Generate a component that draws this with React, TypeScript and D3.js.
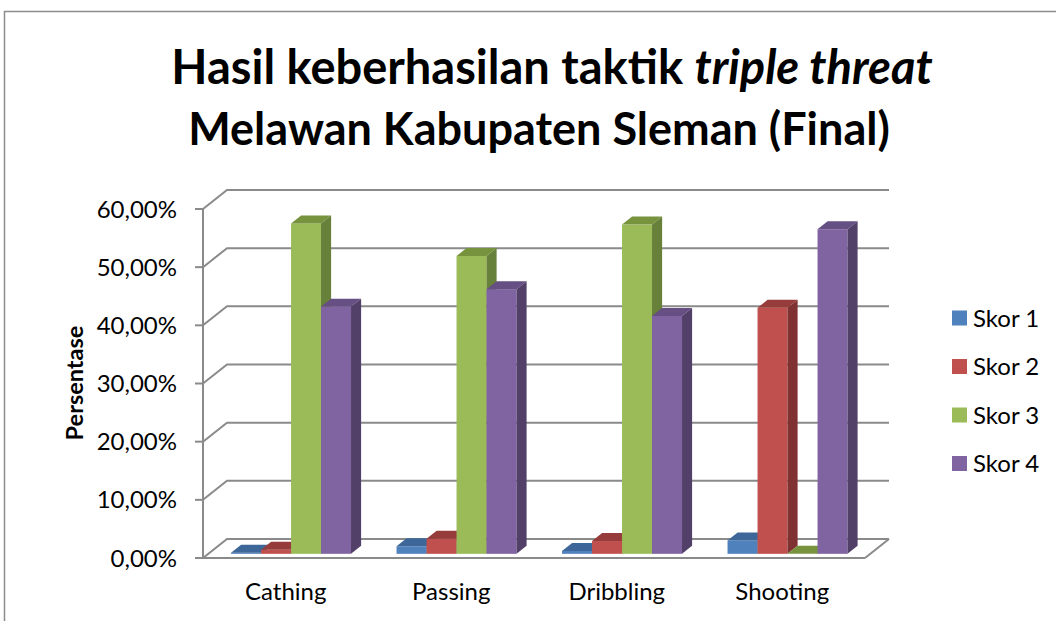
import React from 'react'
import * as d3 from 'd3'

const categories = ['Cathing', 'Passing', 'Dribbling', 'Shooting']
const seriesNames = ['Skor 1', 'Skor 2', 'Skor 3', 'Skor 4']
// percent values per series, one entry per category
const skor1 = [0.2, 1.3, 0.5, 2.3]
const skor2 = [0.7, 2.6, 2.2, 42.3]
const skor3 = [56.8, 51.2, 56.6, 0]
const skor4 = [42.5, 45.5, 40.9, 55.8]
const yTicks = [0, 10, 20, 30, 40, 50, 60]

const seriesValues = [skor1, skor2, skor3, skor4]
const colors = ['#4F81BD', '#C0504D', '#9BBB59', '#8064A2']
const topColors = ['#3D6699', '#963D3B', '#77933D', '#654F83']
const sideColors = ['#385D8A', '#7F3231', '#67803A', '#524069']

const W = 1056
const H = 621
const FX0 = 203
const FX1 = 865
const DX = 24
const DY = -19
const T0 = 0.22
const TB = 0.42

const font = 'Lato, "Open Sans", sans-serif'

const App = () => {
  const x = d3.scaleBand<string>().domain(categories).range([FX0, FX1])
  const inner = d3.scaleBand<string>().domain(seriesNames).range([0, x.bandwidth() * 0.725])
  const y = d3.scaleLinear().domain([0, 60]).range([558, 209])
  const groupOff = (x.bandwidth() - inner.range()[1]) / 2

  const bw = inner.bandwidth()
  const bdx = DX * TB
  const bdy = DY * TB

  const bars: JSX.Element[] = []
  categories.forEach((c, ci) => {
    seriesNames.forEach((s, si) => {
      const v = seriesValues[si][ci]
      const x0 = (x(c) as number) + groupOff + (inner(s) as number) + DX * T0
      const x1 = x0 + bw
      const yb = y(0) + DY * T0
      const yt = y(v) + DY * T0
      bars.push(
        <g key={c + s}>
          <rect x={x0} y={yt} width={bw} height={yb - yt} fill={colors[si]} />
          <polygon
            points={`${x0},${yt} ${x1},${yt} ${x1 + bdx},${yt + bdy} ${x0 + bdx},${yt + bdy}`}
            fill={topColors[si]}
          />
          <polygon
            points={`${x1},${yt} ${x1 + bdx},${yt + bdy} ${x1 + bdx},${yb + bdy} ${x1},${yb}`}
            fill={sideColors[si]}
          />
        </g>
      )
    })
  })

  const grid = '#8A8A8A'

  return (
    <svg width={W} height={H} style={{ position: 'absolute', left: 0, top: 0 }}>
      <rect x={0} y={0} width={W} height={H} fill="#fff" />
      <rect x={4.5} y={11.5} width={1200} height={800} fill="none" stroke="#8C8C8C" strokeWidth={1.5} />

      <text x={552} y={84} textAnchor="middle" fontFamily={font} fontWeight="bold" fontSize={47}>
        Hasil keberhasilan taktik <tspan fontStyle="italic">triple threat</tspan>
      </text>
      <text x={539} y={145} textAnchor="middle" fontFamily={font} fontWeight="bold" fontSize={45}>
        Melawan Kabupaten Sleman (Final)
      </text>

      {/* floor */}
      <line x1={FX0} y1={y(0)} x2={FX1} y2={y(0)} stroke={grid} strokeWidth={2} />
      <line x1={FX1} y1={y(0)} x2={FX1 + DX} y2={y(0) + DY} stroke={grid} strokeWidth={2} />

      {/* gridlines */}
      {yTicks.map(t => (
        <g key={t}>
          <polyline
            points={`${FX0},${y(t)} ${FX0 + DX},${y(t) + DY} ${FX1 + DX},${y(t) + DY}`}
            fill="none"
            stroke={grid}
            strokeWidth={2}
          />
          <line x1={FX0 - 8} y1={y(t)} x2={FX0} y2={y(t)} stroke={grid} strokeWidth={2} />
          <text x={177} y={y(t) + 8.5} textAnchor="end" fontFamily={font} fontSize={24} fill="#000">
            {t.toFixed(2).replace('.', ',') + '%'}
          </text>
        </g>
      ))}
      <line x1={FX0} y1={y(60)} x2={FX0} y2={y(0)} stroke={grid} strokeWidth={2} />

      {bars}

      {categories.map(c => (
        <text key={c} x={(x(c) as number) + x.bandwidth() / 2} y={600} textAnchor="middle" fontFamily={font} fontSize={24}>
          {c}
        </text>
      ))}

      <text
        transform="translate(83,383) rotate(-90)"
        textAnchor="middle"
        fontFamily={font}
        fontWeight="bold"
        fontSize={23.5}
      >
        Persentase
      </text>

      {seriesNames.map((s, i) => (
        <g key={s} transform={`translate(952,${318 + i * 48.5})`}>
          <rect x={0} y={-7.5} width={15} height={15} fill={colors[i]} />
          <text x={21} y={8.5} fontFamily={font} fontSize={24}>
            {s}
          </text>
        </g>
      ))}
    </svg>
  )
}

export default App
